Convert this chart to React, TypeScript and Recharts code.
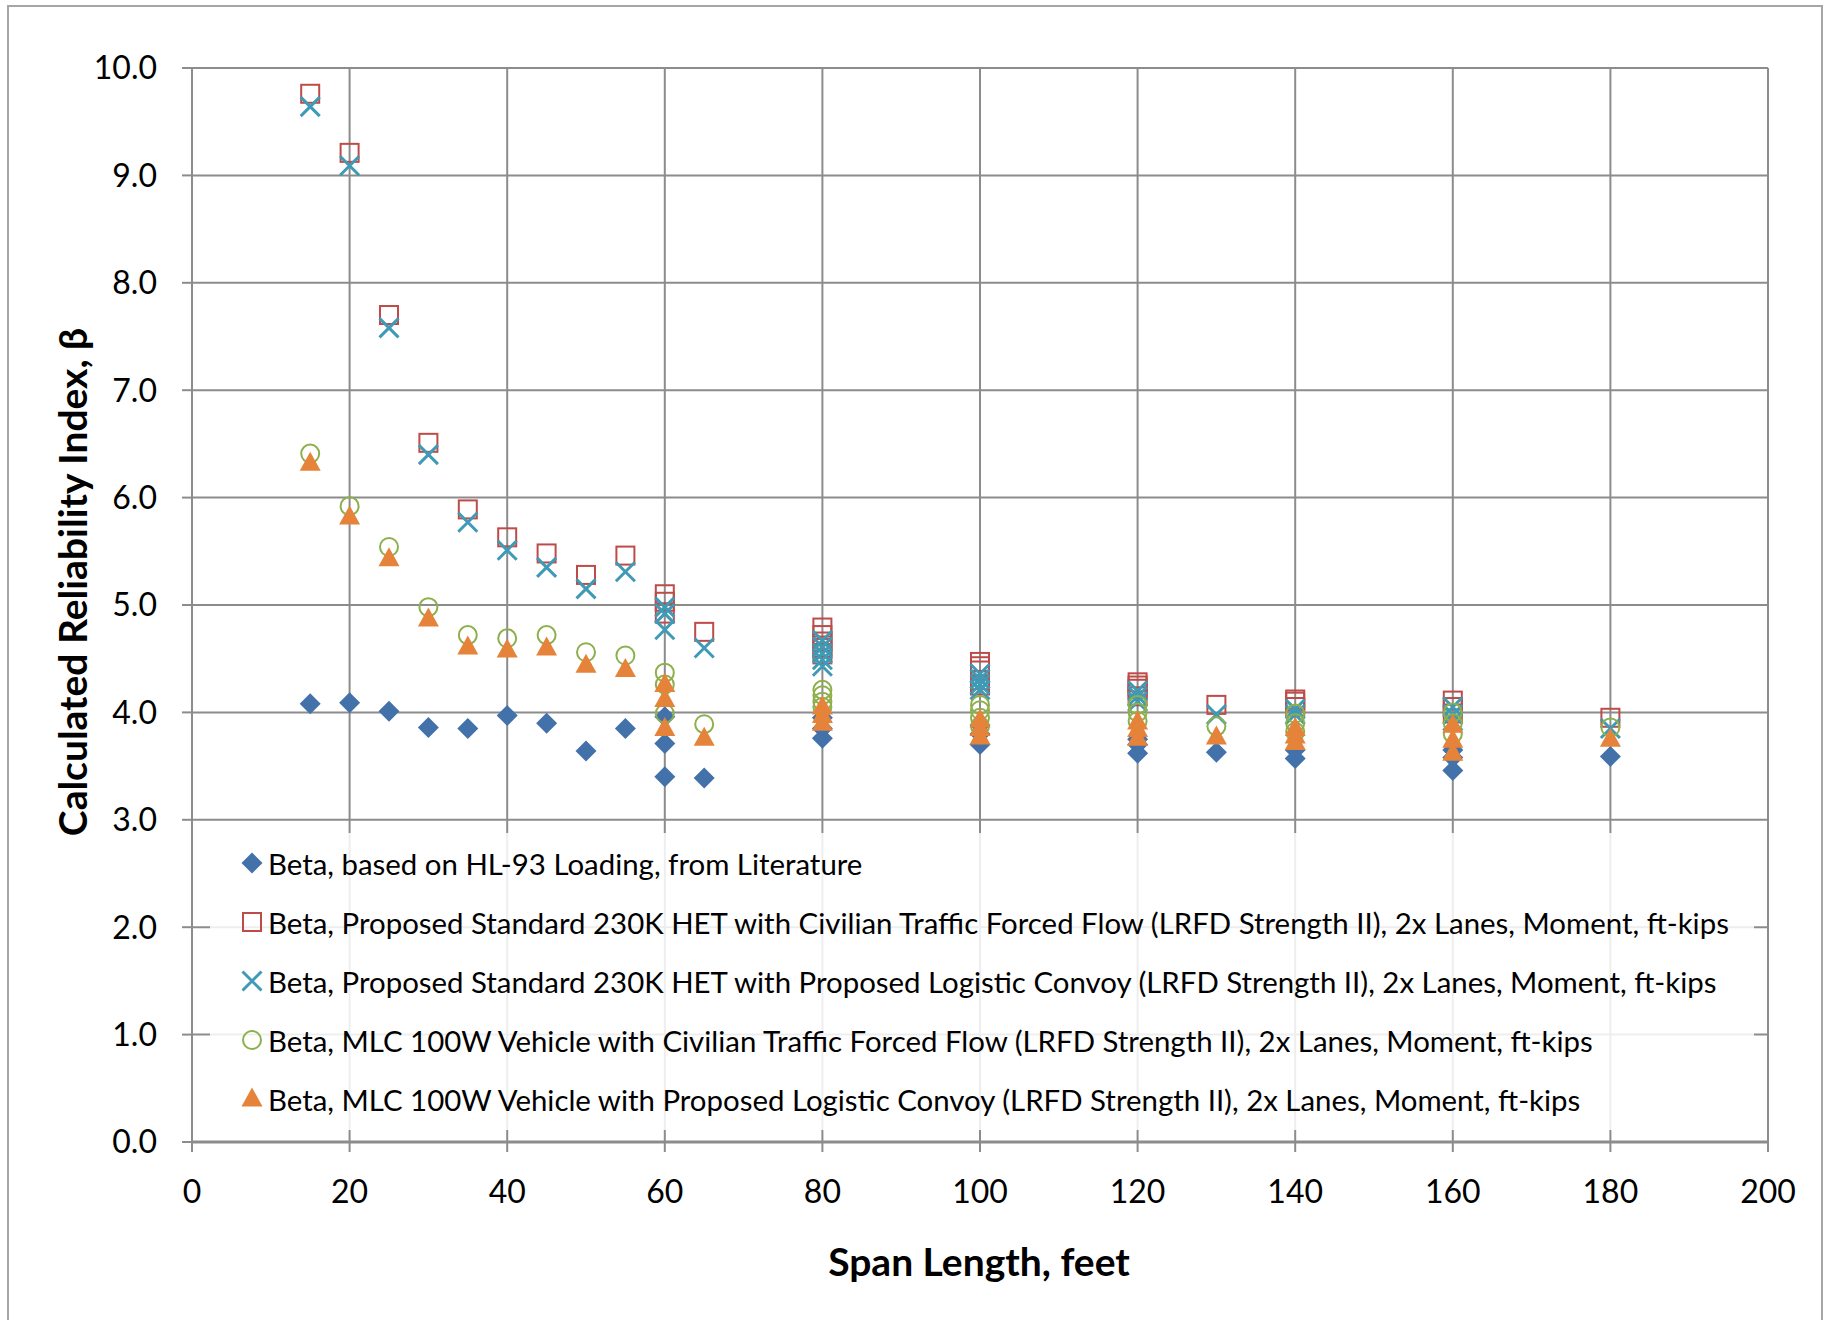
import React from "react";
import { ScatterChart, Scatter, XAxis, YAxis, CartesianGrid } from "recharts";

// span lengths (ft) and reliability index values
const hl93Span = [15, 20, 25, 30, 35, 40, 45, 50, 55, 60, 60, 60, 65, 80, 80, 80, 100, 100, 100, 120, 120, 120, 130, 140, 140, 160, 160, 160, 180];
const hl93Beta = [4.08, 4.09, 4.01, 3.86, 3.85, 3.97, 3.9, 3.64, 3.85, 3.96, 3.71, 3.4, 3.39, 3.95, 3.85, 3.76, 3.88, 3.8, 3.7, 3.75, 3.7, 3.62, 3.63, 3.65, 3.57, 3.65, 3.58, 3.46, 3.59];

const hetCivSpan = [15, 20, 25, 30, 35, 40, 45, 50, 55, 60, 60, 60, 65, 80, 80, 80, 80, 80, 100, 100, 100, 100, 100, 120, 120, 120, 120, 130, 140, 140, 140, 160, 160, 160, 180];
const hetCivBeta = [9.76, 9.21, 7.7, 6.51, 5.89, 5.63, 5.48, 5.28, 5.46, 5.1, 5.03, 4.92, 4.75, 4.79, 4.72, 4.66, 4.6, 4.54, 4.47, 4.43, 4.39, 4.3, 4.25, 4.28, 4.25, 4.22, 4.15, 4.07, 4.12, 4.1, 4.05, 4.11, 4.05, 3.99, 3.95];

const hetConvSpan = [15, 20, 25, 30, 35, 40, 45, 50, 55, 60, 60, 60, 65, 80, 80, 80, 80, 80, 100, 100, 100, 100, 120, 120, 120, 130, 140, 140, 160, 160, 160, 180];
const hetConvBeta = [9.64, 9.09, 7.58, 6.4, 5.77, 5.51, 5.35, 5.15, 5.31, 4.98, 4.92, 4.77, 4.6, 4.67, 4.61, 4.55, 4.49, 4.43, 4.36, 4.31, 4.26, 4.21, 4.2, 4.15, 4.1, 3.98, 4.03, 3.98, 4.05, 3.98, 3.92, 3.85];

const mlcCivSpan = [15, 20, 25, 30, 35, 40, 45, 50, 55, 60, 60, 60, 65, 80, 80, 80, 80, 100, 100, 100, 100, 120, 120, 120, 130, 140, 140, 140, 160, 160, 160, 180];
const mlcCivBeta = [6.41, 5.92, 5.54, 4.98, 4.72, 4.69, 4.72, 4.56, 4.53, 4.37, 4.26, 3.99, 3.89, 4.21, 4.16, 4.1, 4.05, 4.07, 4.02, 3.95, 3.87, 4.07, 4.0, 3.92, 3.87, 3.99, 3.9, 3.82, 4.0, 3.9, 3.8, 3.86];

const mlcConvSpan = [15, 20, 25, 30, 35, 40, 45, 50, 55, 60, 60, 60, 65, 80, 80, 80, 100, 100, 100, 120, 120, 120, 130, 140, 140, 140, 160, 160, 160, 180];
const mlcConvBeta = [6.32, 5.82, 5.43, 4.87, 4.61, 4.58, 4.6, 4.44, 4.4, 4.26, 4.12, 3.85, 3.76, 4.05, 3.97, 3.9, 3.93, 3.85, 3.77, 3.91, 3.84, 3.76, 3.77, 3.85, 3.78, 3.72, 3.88, 3.74, 3.62, 3.75];

const xTicks = [0, 20, 40, 60, 80, 100, 120, 140, 160, 180, 200];
const yTicks = [0, 1, 2, 3, 4, 5, 6, 7, 8, 9, 10];

const legendNames = [
  "Beta, based on HL-93 Loading, from Literature",
  "Beta, Proposed Standard 230K HET with Civilian Traffic Forced Flow (LRFD Strength II), 2x Lanes, Moment, ft-kips",
  "Beta, Proposed Standard 230K HET with Proposed Logistic Convoy (LRFD Strength II), 2x Lanes, Moment, ft-kips",
  "Beta, MLC 100W Vehicle with Civilian Traffic Forced Flow (LRFD Strength II), 2x Lanes, Moment, ft-kips",
  "Beta, MLC 100W Vehicle with Proposed Logistic Convoy (LRFD Strength II), 2x Lanes, Moment, ft-kips",
];

const toPoints = (xs: number[], ys: number[]) => xs.map((x, i) => ({ x, y: ys[i] }));

const BLUE = "#4372AA";
const RED = "#BE4B48";
const TEAL = "#3E9AB5";
const GREEN = "#8DB04D";
const ORANGE = "#E5833A";
const GRID = "#8c8c8c";
const FONT = "Lato, 'Open Sans', sans-serif";

type MarkerKind = "diamond" | "square" | "cross" | "circle" | "triangle";

function Marker({ kind, cx, cy }: { kind: MarkerKind; cx: number; cy: number }) {
  switch (kind) {
    case "diamond":
      return <path d={`M${cx},${cy - 10.5}L${cx + 10.5},${cy}L${cx},${cy + 10.5}L${cx - 10.5},${cy}Z`} fill={BLUE} />;
    case "square":
      return <rect x={cx - 9} y={cy - 9} width={18} height={18} fill="none" stroke={RED} strokeWidth={2} />;
    case "cross":
      return (
        <path
          d={`M${cx - 9.5},${cy - 9.5}L${cx + 9.5},${cy + 9.5}M${cx + 9.5},${cy - 9.5}L${cx - 9.5},${cy + 9.5}`}
          stroke={TEAL}
          strokeWidth={3}
          fill="none"
        />
      );
    case "circle":
      return <circle cx={cx} cy={cy} r={9} fill="none" stroke={GREEN} strokeWidth={2} />;
    default:
      return <path d={`M${cx},${cy - 11.5}L${cx + 10.5},${cy + 7.5}L${cx - 10.5},${cy + 7.5}Z`} fill={ORANGE} />;
  }
}

const shapeOf = (kind: MarkerKind) => (props: any) => <Marker kind={kind} cx={props.cx} cy={props.cy} />;

const legendKinds: MarkerKind[] = ["diamond", "square", "cross", "circle", "triangle"];

export default function App() {
  return (
    <div style={{ position: "absolute", left: 0, top: 0, width: 1827, height: 1320, background: "#fff", overflow: "hidden", fontFamily: FONT }}>
      <div style={{ position: "absolute", left: 7, top: 5, width: 1816, height: 1330, border: "2px solid #a6a6a6", boxSizing: "border-box" }} />
      <ScatterChart width={1827} height={1320} margin={{ top: 68, right: 59, bottom: 98, left: 92 }}>
        <CartesianGrid stroke={GRID} strokeWidth={2} />
        <XAxis
          type="number"
          dataKey="x"
          domain={[0, 200]}
          ticks={xTicks}
          height={80}
          tickSize={10}
          tickMargin={28}
          axisLine={{ stroke: GRID, strokeWidth: 3 }}
          tickLine={{ stroke: GRID, strokeWidth: 2 }}
          tick={{ fill: "#000", fontSize: 32, fontFamily: FONT }}
          allowDataOverflow
        />
        <YAxis
          type="number"
          dataKey="y"
          domain={[0, 10]}
          ticks={yTicks}
          width={100}
          tickSize={10}
          tickMargin={25}
          tickFormatter={(v: number) => v.toFixed(1)}
          axisLine={{ stroke: GRID, strokeWidth: 2 }}
          tickLine={{ stroke: GRID, strokeWidth: 2 }}
          tick={{ fill: "#000", fontSize: 32, fontFamily: FONT }}
          allowDataOverflow
        />
        <Scatter data={toPoints(hl93Span, hl93Beta)} shape={shapeOf("diamond")} isAnimationActive={false} />
        <Scatter data={toPoints(hetCivSpan, hetCivBeta)} shape={shapeOf("square")} isAnimationActive={false} />
        <Scatter data={toPoints(hetConvSpan, hetConvBeta)} shape={shapeOf("cross")} isAnimationActive={false} />
        <Scatter data={toPoints(mlcCivSpan, mlcCivBeta)} shape={shapeOf("circle")} isAnimationActive={false} />
        <Scatter data={toPoints(mlcConvSpan, mlcConvBeta)} shape={shapeOf("triangle")} isAnimationActive={false} />
      </ScatterChart>

      {/* legend sits inside the plot, over the lower grid */}
      <div
        style={{
          position: "absolute",
          left: 210,
          top: 833,
          width: 1544,
          height: 297,
          background: "rgba(255,255,255,0.85)",
        }}
      >
        {legendNames.map((name, i) => (
          <div key={name} style={{ position: "absolute", left: 30, top: 30 + i * 59 - 18, height: 36, display: "flex", alignItems: "center" }}>
            <svg width={24} height={24} style={{ marginRight: 4 }}>
              <Marker kind={legendKinds[i]} cx={12} cy={12} />
            </svg>
            <span style={{ fontSize: 29.4, color: "#000", whiteSpace: "nowrap" }}>{name}</span>
          </div>
        ))}
      </div>

      <div
        style={{
          position: "absolute",
          left: 72,
          top: 582,
          transform: "translate(-50%, -50%) rotate(-90deg)",
          fontSize: 39,
          fontWeight: 700,
          whiteSpace: "nowrap",
          color: "#000",
        }}
      >
        Calculated Reliability Index, β
      </div>
      <div
        style={{
          position: "absolute",
          left: 979,
          top: 1261,
          transform: "translate(-50%, -50%)",
          fontSize: 39,
          fontWeight: 700,
          whiteSpace: "nowrap",
          color: "#000",
        }}
      >
        Span Length, feet
      </div>
    </div>
  );
}
